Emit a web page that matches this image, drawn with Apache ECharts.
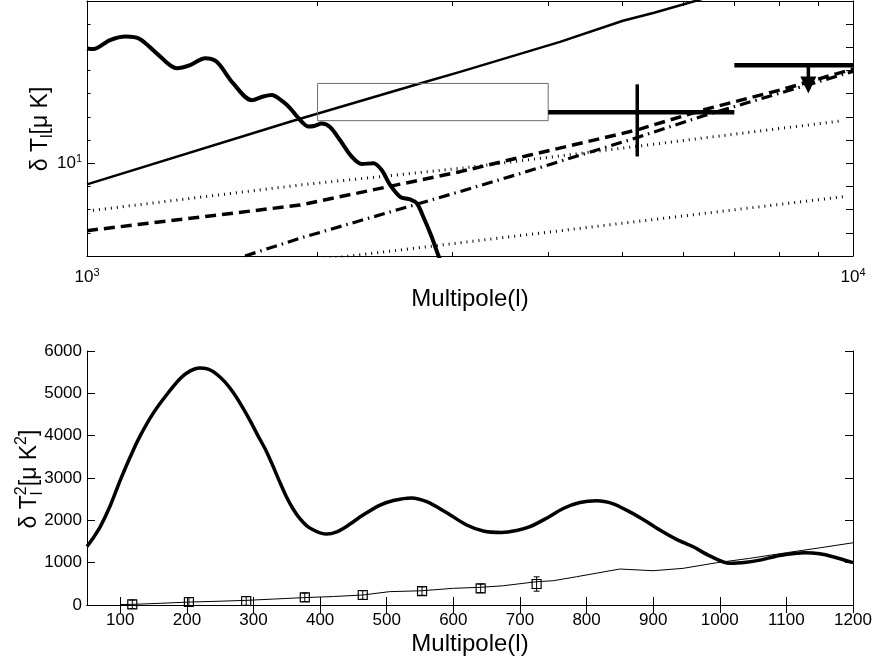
<!DOCTYPE html>
<html><head><meta charset="utf-8">
<script src="https://cdn.jsdelivr.net/npm/echarts@6/dist/echarts.min.js"></script>
<style>html,body{margin:0;padding:0;background:#fff}#c{width:876px;height:663px}</style>
</head><body><div id="c"></div>
<script>
// ===== Top panel (log-log): multipole l vs delta T_l [muK] =====
const dampL = [1000,1019,1072,1124,1173,1233,1310,1363,1426,1477,1552,1641,1699,1742,1804,1841,1878,1914,1944,1979,2025,2076,2139,2215,2284,2365,2425,2487,2563,2641,2695,2748,2818,2874,2950];
const dampT = [31.3,31.1,34.0,35.2,34.3,29.8,25.7,26.5,28.4,27.4,22.1,18.7,19.4,19.7,18.4,17.31,15.99,14.92,14.41,14.48,14.84,14.33,12.6,10.7,9.93,10.0,9.35,8.06,7.17,6.99,6.72,5.88,4.82,4.02,3.3];
const thinL = [1000,1841,2720,3069,4145,5008,5500,6220,8000,10000];
const thinT = [8.11,15.1,22.1,24.8,33.4,41.2,44.6,50.1,64.5,81];
const dotHiL = [1000,1897,3069,9700];
const dotHiT = [6.22,8.06,9.51,15.27];
const dotLoL = [2000,3069,9700];
const dotLoT = [3.83,4.54,7.17];
const dashL = [1000,1897,3069,3788,5224,6368,8035,10000];
const dashT = [5.12,6.60,9.20,10.85,13.92,16.98,20.7,25.5];
const dashDotL = [1608,1897,3069,3788,5224,6368,10000];
const dashDotT = [3.98,4.75,7.55,9.3,12.9,16.0,24.9];
// band box: [lMin, lMax, Tlow, Thigh]
const bandBox = [2000, 4000, 15.27, 22.1];
// detection with error bars: [l, T, lMin, lMax, Tlow, Thigh]
const detection = [5228, 16.6, 4000, 7000, 10.7, 21.9];
// upper limit: [l, T, lMin, lMax, Ttip]
const upperLimit = [8744, 26.5, 7000, 10000, 20.0];
const xTopTicks = [2000,3000,4000,5000,6000,7000,8000,9000];
const xTopLabels = [1000,10000];
const yTopTickExp = [0.7,0.8,0.9,1.0,1.1,1.2,1.3,1.4,1.5,1.6];
const yTopLabels = [10];

// ===== Bottom panel (linear): multipole l vs delta T_l^2 [muK^2] =====
const specL = [50,60,70,85,100,115,129,149,169,190,205,219,232,245,257,269,282,295,307,319,329,339,349,359,369,380,390,400,410,425,439,465,490,510,537,560,590,620,645,672,695,715,740,765,790,815,840,860,885,910,935,960,985,1015,1040,1060,1090,1128,1150,1170,1200];
const specV = [1380,1600,1850,2350,2950,3500,3970,4520,4955,5350,5530,5600,5570,5450,5270,5030,4710,4350,3990,3640,3290,2920,2570,2280,2050,1870,1770,1705,1675,1730,1850,2130,2360,2470,2530,2440,2180,1890,1750,1715,1760,1850,2050,2280,2420,2460,2390,2240,2020,1770,1550,1375,1160,985,1010,1060,1170,1235,1210,1140,1000];
const noiseL = [100,118,160,204,250,290,330,377,420,464,504,553,600,641,675,725,750,785,850,900,945,995,1045,1100,1150,1200];
const noiseV = [10,15,40,70,90,110,140,175,200,236,315,337,394,418,455,550,573,668,850,810,866,998,1102,1235,1350,1470];
const measL = [118,203,289,377,464,553,641,725];
const measV = [17,71,94,182,236,330,394,496];
const measErr = [100,100,100,100,100,100,100,170];
const xBotTicks = [100,200,300,400,500,600,700,800,900,1000,1100,1200];

const FONT = '"Liberation Sans", Arial, Helvetica, sans-serif';
const zip = (a, b) => a.map((v, i) => [v, b[i]]);
const yMin = Math.pow(10, 0.6), yMax = Math.pow(10, 1.7);
const yTopTicks = yTopTickExp.map(e => Math.pow(10, e));
const blk = {color: '#000', width: 1};

function supLabel(v) {
  const e = Math.round(Math.log10(v));
  return '{b|10}{s|' + e + '}';
}
const supRich = {
  b: {fontSize: 17, fontFamily: FONT, color: '#000'},
  s: {fontSize: 11, fontFamily: FONT, color: '#000', padding: [0, 0, 9, 0]}
};
const plain = v => String(v);

const chart = echarts.init(document.getElementById('c'), null, {renderer: 'canvas'});

function lineSeries(name, L, T, xi, yi, style) {
  return {name, type: 'line', xAxisIndex: xi, yAxisIndex: yi, data: zip(L, T), symbol: 'none',
    lineStyle: Object.assign({color: '#000', cap: 'butt'}, style), silent: true, animation: false, z: style.z || 2};
}

// measure text for titles
const mctx = document.createElement('canvas').getContext('2d');
function tw(t, size) { mctx.font = size + 'px ' + FONT; return mctx.measureText(t).width; }
function titleGroup(cx, cy, parts) {
  let W = 0;
  parts.forEach((p, i) => { if (!p.stack) W += Math.max(p.w, i > 0 && parts[i - 1].stack ? parts[i - 1].w : 0); });
  let x = -W / 2;
  const children = [];
  parts.forEach((p, i) => {
    children.push({type: 'text', x: x, y: p.dy || 0,
      style: {text: p.t, font: p.size + 'px ' + FONT, fill: '#000', textAlign: 'left', textVerticalAlign: 'middle'}});
    if (!p.stack) x += Math.max(p.w, i > 0 && parts[i - 1].stack ? parts[i - 1].w : 0);
  });
  return {type: 'group', x: cx, y: cy, rotation: Math.PI / 2, children};
}
function P(t, size, dy, stack) { return {t, size, dy, stack, w: tw(t, size)}; }

const option = {
  animation: false,
  backgroundColor: '#fff',
  grid: [
    {left: 87, top: 1, width: 766, height: 255, containLabel: false},
    {left: 87, top: 351, width: 766, height: 254, containLabel: false}
  ],
  xAxis: [
    {gridIndex: 0, type: 'log', logBase: 10, min: 1000, max: 10000, position: 'bottom',
      axisLine: {lineStyle: blk}, splitLine: {show: false},
      axisTick: {inside: true, length: 4, customValues: xTopTicks, lineStyle: blk},
      axisLabel: {customValues: xTopLabels, formatter: supLabel, rich: supRich, margin: 11},
      name: 'Multipole(l)', nameLocation: 'middle', nameGap: 31,
      nameTextStyle: {fontSize: 24, fontFamily: FONT, color: '#000'}},
    {gridIndex: 0, type: 'log', logBase: 10, min: 1000, max: 10000, position: 'top',
      axisLine: {lineStyle: blk}, splitLine: {show: false},
      axisTick: {inside: true, length: 5, customValues: xTopTicks, lineStyle: blk},
      axisLabel: {show: false}},
    {gridIndex: 1, type: 'value', min: 50, max: 1200, position: 'bottom',
      axisLine: {lineStyle: blk}, splitLine: {show: false},
      axisTick: {inside: true, length: 8, customValues: xBotTicks, lineStyle: blk},
      axisLabel: {customValues: xBotTicks, formatter: plain, fontSize: 17, fontFamily: FONT, color: '#000', margin: 7},
      name: 'Multipole(l)', nameLocation: 'middle', nameGap: 27,
      nameTextStyle: {fontSize: 24, fontFamily: FONT, color: '#000'}},
    {gridIndex: 1, type: 'value', min: 50, max: 1200, position: 'top',
      axisLine: {lineStyle: blk}, splitLine: {show: false},
      axisTick: {inside: true, length: 8, customValues: xBotTicks, lineStyle: blk},
      axisLabel: {show: false}}
  ],
  yAxis: [
    {gridIndex: 0, type: 'log', logBase: 10, min: yMin, max: yMax, position: 'left',
      axisLine: {lineStyle: blk}, splitLine: {show: false},
      axisTick: {inside: true, length: 3.5, customValues: yTopTicks, lineStyle: blk},
      axisLabel: {customValues: yTopLabels, formatter: supLabel, rich: supRich, margin: 5}},
    {gridIndex: 0, type: 'log', logBase: 10, min: yMin, max: yMax, position: 'left',
      axisLine: {show: false}, splitLine: {show: false},
      axisTick: {inside: true, length: 8, customValues: yTopLabels, lineStyle: blk},
      axisLabel: {show: false}},
    {gridIndex: 0, type: 'log', logBase: 10, min: yMin, max: yMax, position: 'right',
      axisLine: {lineStyle: blk}, splitLine: {show: false},
      axisTick: {inside: true, length: 7, customValues: yTopTicks, lineStyle: blk},
      axisLabel: {show: false}},
    {gridIndex: 1, type: 'value', min: 0, max: 6000, interval: 1000, position: 'left',
      axisLine: {lineStyle: blk}, splitLine: {show: false},
      axisTick: {inside: true, length: 8, lineStyle: blk},
      axisLabel: {formatter: plain, fontSize: 17, fontFamily: FONT, color: '#000', margin: 5}},
    {gridIndex: 1, type: 'value', min: 0, max: 6000, interval: 1000, position: 'right',
      axisLine: {lineStyle: blk}, splitLine: {show: false},
      axisTick: {inside: true, length: 8, lineStyle: blk},
      axisLabel: {show: false}}
  ],
  graphic: [
    titleGroup(41, 129, [P('δ T', 23, 0), P('l', 16, 7), P('[μ K]', 23, 0)]),
    titleGroup(30, 479, [P('δ T', 23, 0), P('2', 16, -8, true), P('l', 16, 8), P('[μ K', 23, 0), P('2', 16, -8), P(']', 23, 0)])
  ],
  series: [
    lineSeries('dottedHigh', dotHiL, dotHiT, 0, 0, {width: 3, type: [1, 5]}),
    lineSeries('dottedLow', dotLoL, dotLoT, 0, 0, {width: 3, type: [1, 5]}),
    lineSeries('dashed', dashL, dashT, 0, 0, {width: 3.5, type: [11, 6]}),
    lineSeries('dashDot', dashDotL, dashDotT, 0, 0, {width: 3.2, type: [11, 5, 1.5, 5]}),
    lineSeries('thin', thinL, thinT, 0, 0, {width: 2.5, type: 'solid'}),
    {type: 'custom', xAxisIndex: 0, yAxisIndex: 0, data: [bandBox], silent: true, z: 3,
      renderItem(params, api) {
        const p1 = api.coord([api.value(0), api.value(3)]);
        const p2 = api.coord([api.value(1), api.value(2)]);
        return {type: 'rect', shape: {x: p1[0], y: p1[1], width: p2[0] - p1[0], height: p2[1] - p1[1]},
          style: {fill: 'none', stroke: '#6e6e6e', lineWidth: 1}};
      }},
    Object.assign(lineSeries('damping', dampL, dampT, 0, 0, {width: 4, type: 'solid', z: 4}), {smooth: 0.3}),
    {type: 'custom', xAxisIndex: 0, yAxisIndex: 0, data: [detection], silent: true, z: 5,
      renderItem(params, api) {
        const c = api.coord([api.value(0), api.value(1)]);
        const a = api.coord([api.value(2), api.value(1)]);
        const b = api.coord([api.value(3), api.value(1)]);
        const lo = api.coord([api.value(0), api.value(4)]);
        const hi = api.coord([api.value(0), api.value(5)]);
        return {type: 'group', children: [
          {type: 'line', shape: {x1: a[0], y1: c[1], x2: b[0], y2: c[1]}, style: {stroke: '#000', lineWidth: 4.5}},
          {type: 'line', shape: {x1: c[0], y1: hi[1], x2: c[0], y2: lo[1]}, style: {stroke: '#000', lineWidth: 3.5}}
        ]};
      }},
    {type: 'custom', xAxisIndex: 0, yAxisIndex: 0, data: [upperLimit], silent: true, z: 5,
      renderItem(params, api) {
        const c = api.coord([api.value(0), api.value(1)]);
        const a = api.coord([api.value(2), api.value(1)]);
        const b = api.coord([api.value(3), api.value(1)]);
        const t = api.coord([api.value(0), api.value(4)]);
        return {type: 'group', children: [
          {type: 'line', shape: {x1: a[0], y1: c[1], x2: b[0], y2: c[1]}, style: {stroke: '#000', lineWidth: 4.5}},
          {type: 'line', shape: {x1: c[0], y1: c[1], x2: c[0], y2: t[1] - 12}, style: {stroke: '#000', lineWidth: 3.5}},
          {type: 'polygon', shape: {points: [[c[0] - 8, t[1] - 17], [c[0] + 8, t[1] - 17], [c[0], t[1]]]}, style: {fill: '#000'}}
        ]};
      }},
    // bottom panel
    Object.assign(lineSeries('spectrum', specL, specV, 2, 3, {width: 3.5, type: 'solid', z: 3}), {smooth: 0.3}),
    lineSeries('noise', noiseL, noiseV, 2, 3, {width: 1, type: 'solid', z: 2}),
    {type: 'custom', xAxisIndex: 2, yAxisIndex: 3, silent: true, z: 4,
      data: measL.map((l, i) => [l, measV[i], measErr[i]]),
      renderItem(params, api) {
        const c = api.coord([api.value(0), api.value(1)]);
        const lo = api.coord([api.value(0), api.value(1) - api.value(2)]);
        const hi = api.coord([api.value(0), api.value(1) + api.value(2)]);
        const s = 4.5;
        const st = {stroke: '#000', lineWidth: 1};
        return {type: 'group', children: [
          {type: 'rect', shape: {x: c[0] - s, y: c[1] - s, width: 2 * s, height: 2 * s}, style: {fill: 'none', stroke: '#000', lineWidth: 1.2}},
          {type: 'line', shape: {x1: c[0], y1: hi[1], x2: c[0], y2: lo[1]}, style: st},
          {type: 'line', shape: {x1: c[0] - 3, y1: hi[1], x2: c[0] + 3, y2: hi[1]}, style: st},
          {type: 'line', shape: {x1: c[0] - 3, y1: lo[1], x2: c[0] + 3, y2: lo[1]}, style: st}
        ]};
      }}
  ]
};
chart.setOption(option);
</script>
</body></html>
